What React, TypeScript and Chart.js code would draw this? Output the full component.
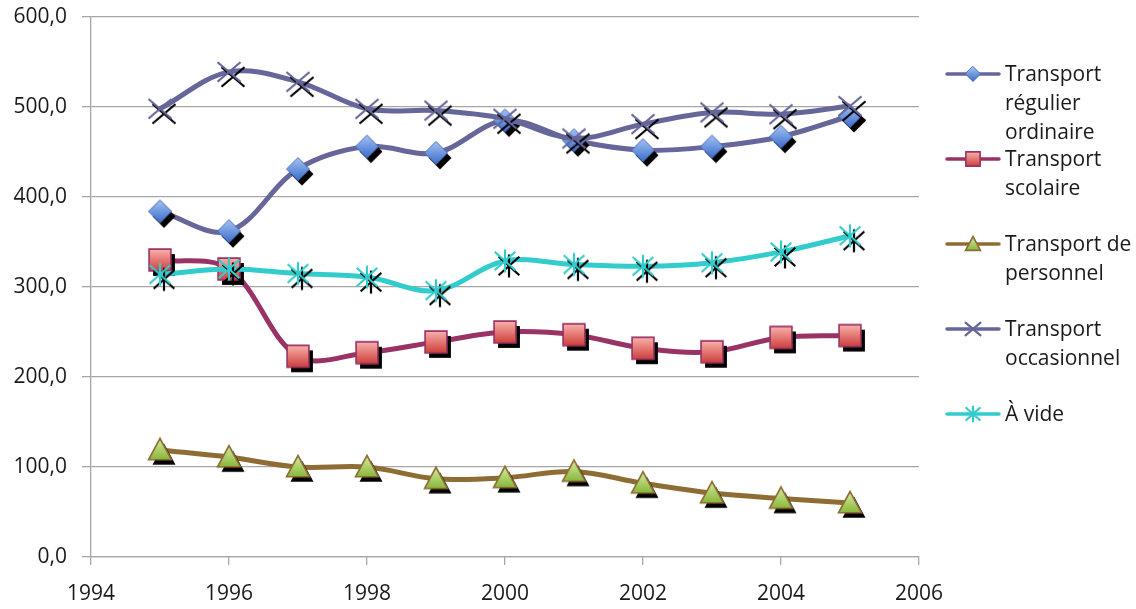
import React, { useEffect, useRef } from 'react';
import { Chart, registerables } from 'chart.js';

Chart.register(...registerables);

const years = [1995, 1996, 1997, 1998, 1999, 2000, 2001, 2002, 2003, 2004, 2005];
const regulier = [384, 362, 431, 456, 449, 485, 463, 452, 456, 467, 490];
const scolaire = [330, 320, 223, 227, 239, 250, 247, 232, 228, 244, 246];
const personnel = [119, 111, 100, 100, 87, 88, 95, 82, 71, 65, 60];
const occasionnel = [498, 539, 528, 498, 496, 487, 465, 481, 494, 492, 501];
const aVide = [314, 320, 315, 311, 296, 329, 325, 323, 327, 339, 357];
const seriesLabels = [
  'Transport régulier ordinaire',
  'Transport scolaire',
  'Transport de personnel',
  'Transport occasionnel',
  'À vide',
];
const xMin = 1994;
const xMax = 2006;
const xStep = 2;
const yMin = 0;
const yMax = 600;
const yStep = 100;

type Kind = 'diamond' | 'square' | 'triangle' | 'cross' | 'star';

const FONT = '"Open Sans", "Noto Sans", sans-serif';

function shapePath(ctx: CanvasRenderingContext2D, kind: Kind, cx: number, cy: number, r: number) {
  ctx.beginPath();
  if (kind === 'diamond') {
    ctx.moveTo(cx, cy - r);
    ctx.lineTo(cx + r, cy);
    ctx.lineTo(cx, cy + r);
    ctx.lineTo(cx - r, cy);
    ctx.closePath();
  } else if (kind === 'square') {
    const h = r * 0.95;
    ctx.rect(cx - h, cy - h, 2 * h, 2 * h);
  } else if (kind === 'triangle') {
    ctx.moveTo(cx, cy - r);
    ctx.lineTo(cx + r, cy + r * 0.85);
    ctx.lineTo(cx - r, cy + r * 0.85);
    ctx.closePath();
  } else if (kind === 'cross') {
    ctx.moveTo(cx - r, cy - r * 0.85);
    ctx.lineTo(cx + r, cy + r * 0.85);
    ctx.moveTo(cx + r, cy - r * 0.85);
    ctx.lineTo(cx - r, cy + r * 0.85);
  } else {
    ctx.moveTo(cx - r * 0.9, cy - r * 0.8);
    ctx.lineTo(cx + r * 0.9, cy + r * 0.8);
    ctx.moveTo(cx + r * 0.9, cy - r * 0.8);
    ctx.lineTo(cx - r * 0.9, cy + r * 0.8);
    ctx.moveTo(cx, cy - r);
    ctx.lineTo(cx, cy + r);
  }
}

const markerStyle: Record<Kind, { top?: string; bottom?: string; stroke: string; lw: number }> = {
  diamond: { top: '#A3C3F4', bottom: '#3A6CCB', stroke: '#4A6DB5', lw: 1 },
  square: { top: '#FBB4AE', bottom: '#CC3C38', stroke: '#993366', lw: 1.6 },
  triangle: { top: '#D5EBA0', bottom: '#82B332', stroke: '#8E6D34', lw: 1.6 },
  cross: { stroke: '#66669A', lw: 2.2 },
  star: { stroke: '#33CCCC', lw: 2.2 },
};

function drawShape(ctx: CanvasRenderingContext2D, kind: Kind, cx: number, cy: number, r: number, shadow: boolean) {
  const st = markerStyle[kind];
  const filled = !!st.top;
  ctx.save();
  ctx.lineJoin = 'miter';
  if (shadow) {
    shapePath(ctx, kind, cx + 4, cy + 5, r);
    if (filled) {
      ctx.fillStyle = '#000';
      ctx.fill();
    } else {
      ctx.strokeStyle = '#000';
      ctx.lineWidth = st.lw;
      ctx.stroke();
    }
  }
  shapePath(ctx, kind, cx, cy, r);
  if (filled) {
    const g = ctx.createLinearGradient(cx, cy - r, cx, cy + r);
    g.addColorStop(0, st.top!);
    g.addColorStop(1, st.bottom!);
    ctx.fillStyle = g;
    ctx.fill();
  }
  ctx.strokeStyle = st.stroke;
  ctx.lineWidth = st.lw;
  ctx.stroke();
  ctx.restore();
}

function makeMarker(kind: Kind): HTMLCanvasElement {
  const S = 46;
  const cv = document.createElement('canvas');
  cv.width = S;
  cv.height = S;
  const ctx = cv.getContext('2d')!;
  drawShape(ctx, kind, S / 2, S / 2, 11.5, true);
  return cv;
}

const legendPlugin = {
  id: 'customLegend',
  afterDraw(chart: any) {
    const ctx: CanvasRenderingContext2D = chart.ctx;
    const ds = chart.data.datasets;
    const startY = 74;
    const gap = 85;
    const lineX0 = 947;
    const lineX1 = 999;
    const textX = 1005;
    const maxW = 1136 - textX - 2;
    ctx.save();
    ctx.font = `21px ${FONT}`;
    ctx.textBaseline = 'middle';
    ctx.textAlign = 'left';
    ds.forEach((d: any, i: number) => {
      const y = startY + i * gap;
      ctx.beginPath();
      ctx.moveTo(lineX0, y);
      ctx.lineTo(lineX1, y);
      ctx.strokeStyle = d.borderColor;
      ctx.lineWidth = 3.5;
      ctx.lineCap = 'round';
      ctx.stroke();
      drawShape(ctx, d.markerKind, (lineX0 + lineX1) / 2, y, 7.5, false);
      const words = String(d.label).split(' ');
      const lines: string[] = [];
      let cur = '';
      words.forEach((w) => {
        const t = cur ? cur + ' ' + w : w;
        if (cur && ctx.measureText(t).width > maxW) {
          lines.push(cur);
          cur = w;
        } else {
          cur = t;
        }
      });
      if (cur) lines.push(cur);
      ctx.fillStyle = '#1a1a1a';
      lines.forEach((l, k) => ctx.fillText(l, textX, y + 1 + k * 29));
    });
    ctx.restore();
  },
};

export default function App() {
  const ref = useRef<HTMLCanvasElement>(null);
  useEffect(() => {
    if (!ref.current) return;
    const series = [regulier, scolaire, personnel, occasionnel, aVide];
    const colors = ['#66669A', '#993366', '#8E6D34', '#66669A', '#33CCCC'];
    const kinds: Kind[] = ['diamond', 'square', 'triangle', 'cross', 'star'];
    const datasets = series.map((vals, i) => ({
      label: seriesLabels[i],
      data: years.map((x, k) => ({ x, y: vals[k] })),
      borderColor: colors[i],
      backgroundColor: colors[i],
      borderWidth: 5,
      tension: 0.35,
      pointStyle: makeMarker(kinds[i]),
      pointRadius: 10,
      pointHoverRadius: 10,
      order: series.length - 1 - i,
      markerKind: kinds[i],
    }));
    const gridColor = '#A6A6A6';
    const chart = new Chart(ref.current, {
      type: 'line',
      data: { datasets } as any,
      options: {
        animation: false,
        responsive: false,
        events: [],
        layout: { padding: { top: 17, right: 217, left: 0, bottom: 0 } },
        plugins: {
          legend: { display: false },
          tooltip: { enabled: false },
        },
        scales: {
          x: {
            type: 'linear',
            min: xMin,
            max: xMax,
            afterFit: (s: any) => {
              s.height = 52;
              s.paddingLeft = 0;
              s.paddingRight = 0;
            },
            grid: {
              drawOnChartArea: false,
              drawTicks: true,
              tickLength: 8,
              color: gridColor,
              lineWidth: 1.3,
            },
            border: { display: true, color: gridColor, width: 1.3 },
            ticks: {
              stepSize: xStep,
              padding: 16,
              color: '#1a1a1a',
              font: { family: FONT, size: 21 },
              callback: (v: any) => String(v),
            },
          },
          y: {
            type: 'linear',
            min: yMin,
            max: yMax,
            afterFit: (s: any) => {
              s.width = 91;
              s.paddingTop = 0;
              s.paddingBottom = 0;
            },
            grid: {
              drawOnChartArea: true,
              drawTicks: true,
              tickLength: 9,
              color: gridColor,
              lineWidth: 1.3,
            },
            border: { display: true, color: gridColor, width: 1.3 },
            ticks: {
              stepSize: yStep,
              padding: 15,
              color: '#1a1a1a',
              font: { family: FONT, size: 21 },
              callback: (v: any) => Number(v).toFixed(1).replace('.', ','),
            },
          },
        },
      },
      plugins: [legendPlugin],
    });
    return () => chart.destroy();
  }, []);
  return (
    <div style={{ position: 'absolute', left: 0, top: 0, width: 1136, height: 609, background: '#fff' }}>
      <canvas ref={ref} width={1136} height={609} />
    </div>
  );
}
